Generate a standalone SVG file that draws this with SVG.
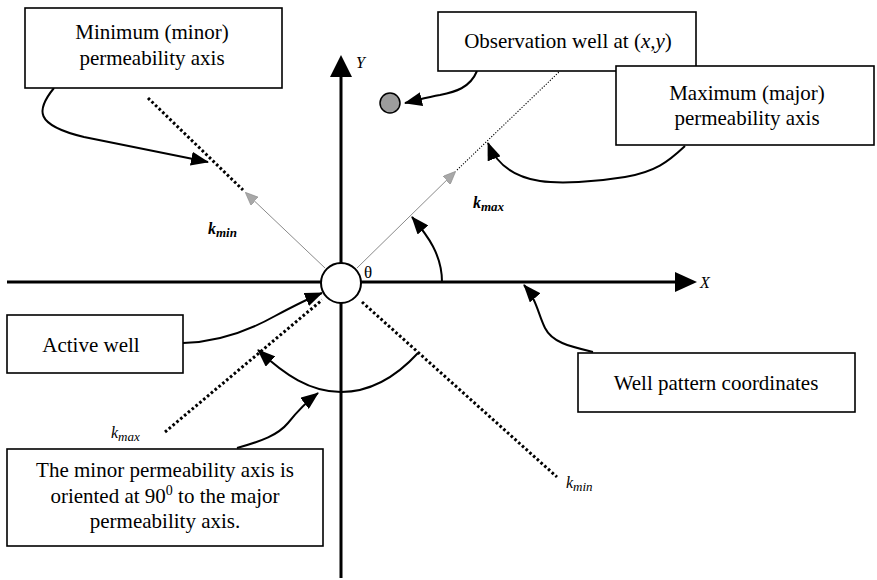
<svg xmlns="http://www.w3.org/2000/svg" width="877" height="580" viewBox="0 0 877 580">
  <style>
    .box { fill: #fff; stroke: #000; stroke-width: 1.6; }
    .lbl { font-family: "Liberation Serif", "Times New Roman", serif; font-size: 21px; fill: #000; text-anchor: middle; }
    .sym { font-family: "Liberation Serif", "Times New Roman", serif; font-style: italic; fill: #000; }
    .axis { stroke: #000; stroke-width: 3; fill: none; }
    .dots { stroke: #000; stroke-width: 3; fill: none; stroke-dasharray: 2.6 2.4; }
    .fine { stroke: #000; stroke-width: 1.1; fill: none; stroke-dasharray: 1.2 1.6; }
    .thin { stroke: #8a8a8a; stroke-width: 1; fill: none; }
    .conn { stroke: #000; stroke-width: 2; fill: none; marker-end: url(#head); }
  </style>
  <defs>
    <marker id="head" markerUnits="userSpaceOnUse" markerWidth="18" markerHeight="14" refX="17" refY="7" orient="auto">
      <path d="M0,0 L18,7 L0,14 Z" fill="#000"/>
    </marker>
    <marker id="ghead" markerUnits="userSpaceOnUse" markerWidth="13" markerHeight="11" refX="12" refY="5.5" orient="auto">
      <path d="M0,0 L13,5.5 L0,11 Z" fill="#a8a8a8" stroke="#888" stroke-width="0.6"/>
    </marker>
  </defs>

  <!-- permeability axes -->
  <g id="permeability-axes">
    <!-- minor axis -->
    <line class="dots" x1="148" y1="98" x2="243" y2="190"/>
    <line class="thin" x1="325" y1="268" x2="246" y2="193" marker-end="url(#ghead)"/>
    <line class="dots" x1="362" y1="302" x2="557" y2="477"/>
    <!-- major axis -->
    <line class="dots" x1="165" y1="432" x2="322" y2="300"/>
    <line class="thin" x1="357" y1="268" x2="455" y2="172" marker-end="url(#ghead)"/>
    <line class="fine" x1="457" y1="170" x2="560" y2="71"/>
  </g>

  <!-- well pattern coordinate axes -->
  <g id="coordinate-axes">
    <line class="axis" x1="7" y1="282" x2="677" y2="282"/>
    <polygon points="675,272 697,282 675,292" fill="#000"/>
    <line class="axis" x1="341" y1="578" x2="341" y2="75"/>
    <polygon points="330,77 341,55 352,77" fill="#000"/>
    <text class="sym" x="700" y="288" font-size="16">X</text>
    <text class="sym" x="356" y="68" font-size="16">Y</text>
  </g>

  <!-- axis labels -->
  <g id="k-labels">
    <text class="sym" x="208" y="234" font-size="16" font-weight="bold">k<tspan font-size="13" dy="3">min</tspan></text>
    <text class="sym" x="473" y="208" font-size="16" font-weight="bold">k<tspan font-size="13" dy="3">max</tspan></text>
    <text class="sym" x="111" y="438" font-size="16">k<tspan font-size="13" dy="3">max</tspan></text>
    <text class="sym" x="566" y="488" font-size="16">k<tspan font-size="13" dy="3">min</tspan></text>
    <text x="364" y="278" font-family="Liberation Serif, serif" font-size="17" fill="#000">θ</text>
  </g>

  <!-- wells -->
  <g id="active-well">
    <circle cx="341" cy="283" r="20" fill="#fff" stroke="#000" stroke-width="2"/>
  </g>
  <g id="observation-well">
    <circle cx="390" cy="103" r="10" fill="#9c9c9c" stroke="#000" stroke-width="1.5"/>
  </g>

  <!-- connectors -->
  <g id="connectors">
    <path class="conn" d="M54,88 C36,110 34,125 84,137 L208,162"/>
    <path class="conn" d="M477,71 C470,88 455,92 440,95 C428,97 418,100 405,103"/>
    <path class="conn" d="M685,146 C668,162 655,172 625,177 C595,182 560,184 540,181 C515,177 497,166 488,143"/>
    <path class="conn" d="M183,343 C220,342 250,330 275,316 C290,308 305,300 322,293"/>
    <path class="conn" d="M593,352 C568,346 552,342 545,328 C538,314 537,300 524,285"/>
    <path class="conn" d="M418,353 C395,378 370,392 341,392 C310,392 285,375 258,350"/>
    <path class="conn" d="M237,448 C262,441 278,435 288,423 C296,413 305,403 318,393"/>
    <path class="conn" d="M442,282 C442,255 428,236 412,217"/>
  </g>

  <!-- annotation boxes -->
  <g id="box-minor-axis">
    <rect class="box" x="25" y="8" width="257" height="80"/>
    <text class="lbl" x="152" y="39">Minimum (minor)</text>
    <text class="lbl" x="152" y="65">permeability axis</text>
  </g>
  <g id="box-observation-well">
    <rect class="box" x="438" y="12" width="258" height="59"/>
    <text class="lbl" x="568" y="48">Observation well at (<tspan font-style="italic">x,y</tspan>)</text>
  </g>
  <g id="box-major-axis">
    <rect class="box" x="616" y="66" width="258" height="79"/>
    <text class="lbl" x="747" y="100">Maximum (major)</text>
    <text class="lbl" x="747" y="125">permeability axis</text>
  </g>
  <g id="box-active-well">
    <rect class="box" x="7" y="315" width="176" height="58"/>
    <text class="lbl" x="91" y="352">Active well</text>
  </g>
  <g id="box-well-pattern">
    <rect class="box" x="578" y="353" width="277" height="59"/>
    <text class="lbl" x="716" y="390">Well pattern coordinates</text>
  </g>
  <g id="box-orientation-note">
    <rect class="box" x="7" y="449" width="316" height="97"/>
    <text class="lbl" x="165" y="477">The minor permeability axis is</text>
    <text class="lbl" x="165" y="503">oriented at 90<tspan font-size="14" dy="-8">0</tspan><tspan dy="8"> to the major</tspan></text>
    <text class="lbl" x="165" y="528">permeability axis.</text>
  </g>
</svg>
